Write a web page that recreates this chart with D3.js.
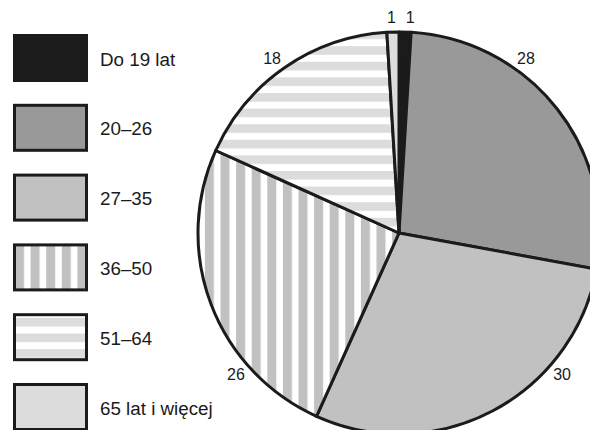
<!DOCTYPE html>
<html>
<head>
<meta charset="utf-8">
<script src="https://cdn.jsdelivr.net/npm/d3@7"></script>
<style>
  body { margin: 0; background: #fff; }
  svg { display: block; font-family: "Liberation Sans", Arial, sans-serif; }
</style>
</head>
<body>
<div id="chart"></div>
<script>
// age groups, values in percent (as printed)
var groups = ["Do 19 lat", "20–26", "27–35", "36–50", "51–64", "65 lat i więcej"];
var values = [1, 28, 30, 26, 18, 1];
var fills = ["#1b1b1b", "#999999", "#c1c1c1", "url(#vstripe)", "url(#hstripe)", "#dcdcdc"];
var legendFills = ["#1b1b1b", "#999999", "#c1c1c1", "url(#vstripeL)", "url(#hstripeL)", "#dcdcdc"];
// where the value labels sit round the pie (degrees, clockwise from top)
var labelAngles = [3, 36, 131, 229, 324, 358];

var width = 590, height = 430;
var cx = 399, cy = 233, radius = 201;

var svg = d3.select("#chart").append("svg")
    .attr("width", width)
    .attr("height", height);

var defs = svg.append("defs");
function stripes(id, vertical, offset, color) {
    var p = defs.append("pattern")
        .attr("id", id)
        .attr("patternUnits", "userSpaceOnUse")
        .attr("width", 15.6)
        .attr("height", 15.6)
        .attr(vertical ? "x" : "y", offset);
    p.append("rect").attr("width", 15.6).attr("height", 15.6).attr("fill", "#fff");
    if (vertical) {
        p.append("rect").attr("width", 9).attr("height", 15.6).attr("fill", color);
    } else {
        p.append("rect").attr("width", 15.6).attr("height", 8.6).attr("fill", color);
    }
}
stripes("vstripe", true, 8.7, "#c1c1c1");
stripes("hstripe", false, 0.4, "#dcdcdc");
stripes("vstripeL", true, 15, "#c1c1c1");
stripes("hstripeL", false, 4.7, "#dcdcdc");

var pie = d3.pie().sort(null).value(function(d) { return d; });
var arc = d3.arc().innerRadius(0).outerRadius(radius);

var g = svg.append("g").attr("transform", "translate(" + cx + "," + cy + ")");
g.selectAll("path.slice")
    .data(pie(values))
    .enter().append("path")
    .attr("class", "slice")
    .attr("d", arc)
    .attr("fill", function(d, i) { return fills[i]; })
    .attr("stroke", "#1b1b1b")
    .attr("stroke-width", 3)
    .attr("stroke-linejoin", "round");

var labelArc = d3.arc().innerRadius(216).outerRadius(216);
g.selectAll("text.val")
    .data(values)
    .enter().append("text")
    .attr("class", "val")
    .attr("transform", function(d, i) {
        var a = labelAngles[i] * Math.PI / 180;
        var c = labelArc.centroid({startAngle: a, endAngle: a});
        return "translate(" + c[0] + "," + c[1] + ")";
    })
    .attr("text-anchor", "middle")
    .attr("dy", "0.36em")
    .attr("font-size", 16)
    .attr("fill", "#1b1b1b")
    .text(function(d) { return d; });

// legend
var legendY = d3.scaleLinear().domain([0, 1]).range([34, 103.8]);
var leg = svg.append("g");
var items = leg.selectAll("g.item")
    .data(groups)
    .enter().append("g")
    .attr("class", "item")
    .attr("transform", function(d, i) { return "translate(0," + legendY(i) + ")"; });
items.append("rect")
    .attr("x", 14.5)
    .attr("y", 1.5)
    .attr("width", 72)
    .attr("height", 45)
    .attr("fill", function(d, i) { return legendFills[i]; })
    .attr("stroke", "#1b1b1b")
    .attr("stroke-width", 3);
items.append("text")
    .attr("x", 100)
    .attr("y", 31.5)
    .attr("font-size", 18.8)
    .attr("fill", "#1b1b1b")
    .text(function(d) { return d; });
</script>
</body>
</html>
